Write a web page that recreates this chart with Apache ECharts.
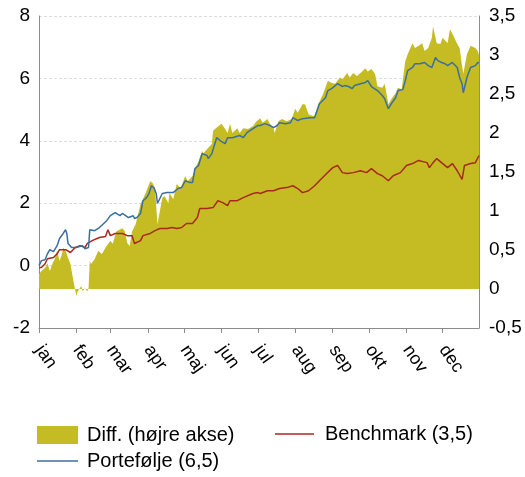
<!DOCTYPE html>
<html>
<head>
<meta charset="utf-8">
<script src="https://cdn.jsdelivr.net/npm/echarts@6/dist/echarts.min.js"></script>
<style>
html,body{margin:0;padding:0;background:#fff;}
#chart{width:525px;height:477px;}
</style>
</head>
<body>
<div id="chart"></div>
<script>
// Danish month tick labels
const monthLabels = ['jan','feb','mar','apr','maj','jun','jul','aug','sep','okt','nov','dec'];

// Series names
const nameDiff = 'Diff. (højre akse)';
const nameBench = 'Benchmark (3,5)';
const namePort = 'Portefølje (6,5)';

// Data: [day of year (0 = 1 Jan), value]
const portfolio = [[0,0],[2,0.16],[5,0.19],[7,0.38],[9,0.51],[12,0.45],[15,0.64],[17,0.87],[20,1.03],[22,1.15],[23,1.03],[24,0.71],[27,0.58],[31,0.58],[36,0.64],[38,0.54],[41,0.58],[42,1.15],[46,1.12],[50,1.22],[56,1.44],[59,1.6],[63,1.7],[67,1.6],[69,1.67],[74,1.54],[78,1.6],[79,1.51],[81,1.54],[84,1.67],[86,2.08],[89,2.18],[91,2.31],[93,2.56],[95,2.5],[97,2.31],[98,1.99],[102,2.31],[106,2.34],[111,2.34],[115,2.47],[118,2.5],[121,2.72],[125,2.66],[127,2.66],[129,3.11],[132,3.21],[135,3.59],[139,3.53],[140,3.43],[143,3.59],[144,3.59],[147,4.1],[150,4.0],[154,3.91],[156,4.1],[160,4.1],[166,4.17],[169,4.1],[172,4.26],[177,4.39],[181,4.49],[183,4.49],[187,4.55],[191,4.49],[194,4.42],[197,4.49],[199,4.58],[204,4.55],[208,4.58],[210,4.74],[214,4.65],[218,4.71],[224,4.74],[228,4.74],[232,5.19],[237,5.38],[239,5.61],[242,5.67],[245,5.77],[247,5.83],[251,5.74],[253,5.77],[256,5.74],[259,5.67],[261,5.77],[266,5.83],[270,5.87],[272,5.93],[275,5.74],[280,5.61],[284,5.45],[286,5.35],[289,5.03],[292,5.22],[295,5.38],[297,5.61],[301,5.64],[303,5.93],[305,6.25],[309,6.35],[311,6.47],[315,6.47],[319,6.51],[322,6.41],[325,6.35],[328,6.67],[330,6.57],[333,6.51],[336,6.47],[338,6.41],[342,6.51],[343,6.47],[346,6.35],[348,6.03],[350,5.83],[351,5.54],[354,6.03],[357,6.35],[361,6.41],[363,6.51],[364,6.5]];

const benchmark = [[0,-0.06],[2,-0.06],[5,0.06],[7,0.22],[12,0.26],[15,0.38],[17,0.51],[22,0.51],[26,0.42],[30,0.58],[34,0.64],[38,0.58],[40,0.71],[44,0.8],[50,0.9],[55,0.93],[57,1.15],[59,0.96],[63,1.03],[69,1.03],[73,0.96],[77,0.96],[79,0.71],[84,0.8],[86,0.96],[92,1.03],[96,1.12],[100,1.19],[106,1.19],[110,1.22],[114,1.19],[118,1.22],[122,1.35],[127,1.35],[131,1.54],[133,1.83],[139,1.83],[144,1.86],[148,2.08],[152,2.02],[156,1.92],[158,2.08],[164,2.08],[169,2.18],[177,2.31],[181,2.34],[183,2.31],[189,2.4],[194,2.4],[199,2.47],[205,2.5],[210,2.56],[214,2.47],[218,2.34],[223,2.4],[228,2.56],[232,2.72],[238,2.95],[243,3.14],[247,3.21],[251,2.98],[255,2.95],[260,2.98],[266,3.04],[271,2.98],[275,3.11],[280,2.95],[284,2.88],[289,2.72],[293,2.88],[299,2.98],[304,3.21],[309,3.27],[314,3.37],[321,3.3],[323,3.14],[326,3.3],[329,3.43],[333,3.3],[338,3.14],[342,3.27],[346,3.04],[350,2.76],[352,3.21],[357,3.27],[361,3.3],[364,3.53]];

const diff = [[0,0.19],[2,0.23],[5,0.27],[7,0.33],[9,0.23],[11,0.32],[13,0.38],[15,0.49],[17,0.36],[19,0.45],[20,0.53],[22,0.49],[24,0.4],[26,0.32],[27,0.23],[29,0.06],[31,-0.09],[32,-0.03],[35,0.04],[36,-0.03],[38,0.01],[40,-0.03],[41,0.01],[42,0.36],[43,0.32],[46,0.38],[49,0.49],[52,0.45],[55,0.53],[59,0.62],[61,0.58],[64,0.74],[65,0.72],[69,0.78],[71,0.74],[73,0.59],[75,0.55],[77,0.74],[80,0.83],[84,1.09],[88,1.22],[92,1.38],[94,1.36],[96,1.29],[98,0.83],[102,1.17],[104,1.19],[107,1.1],[108,1.23],[111,1.15],[114,1.35],[117,1.29],[121,1.45],[123,1.38],[127,1.45],[129,1.54],[132,1.64],[135,1.77],[136,1.74],[140,1.81],[143,1.86],[144,2.03],[147,2.07],[151,2.12],[154,2.05],[156,2.0],[158,2.12],[160,2.0],[164,2.06],[166,2.0],[169,2.06],[173,2.05],[177,2.09],[180,2.15],[183,2.19],[185,2.13],[189,2.18],[191,2.12],[194,2.06],[195,2.0],[198,2.15],[201,2.18],[205,2.15],[209,2.18],[212,2.31],[214,2.26],[218,2.37],[220,2.37],[223,2.24],[226,2.22],[228,2.22],[231,2.37],[235,2.5],[239,2.67],[242,2.64],[245,2.63],[249,2.71],[251,2.69],[255,2.77],[257,2.71],[260,2.77],[263,2.73],[266,2.77],[270,2.83],[272,2.79],[275,2.82],[278,2.76],[280,2.6],[284,2.58],[286,2.63],[289,2.37],[292,2.45],[295,2.51],[297,2.58],[300,2.56],[303,2.92],[305,3.01],[309,3.15],[311,3.09],[314,3.12],[317,3.15],[319,3.05],[322,3.09],[325,3.22],[326,3.37],[329,3.15],[332,3.14],[334,3.22],[338,3.15],[340,3.33],[343,3.24],[346,3.14],[348,3.09],[350,2.86],[351,2.76],[354,3.01],[357,3.12],[361,3.09],[363,3.05],[364,3.0]];

// Category axis: every day of the year
const days = [];
for (let i = 0; i < 365; i++) {
  days.push(new Date(Date.UTC(2023, 0, 1 + i)).toISOString().slice(0, 10));
}
const isMonthStart = (idx, val) => days[idx].endsWith('-01');

const FONT = '"Liberation Sans", Arial, sans-serif';
const axisGray = '#8c8c8c';
const comma = v => String(v).replace('.', ',');
const COL_DIFF = '#c4bc22', COL_BENCH = '#a8291c', COL_PORT = '#3b6fa0';

const legendText = pad => ({fontFamily: FONT, fontSize: 20, color: '#000', padding: [0, 0, 0, pad]});

const chart = echarts.init(document.getElementById('chart'), null, {renderer: 'canvas'});
chart.setOption({
  animation: false,
  textStyle: {fontFamily: FONT, color: '#000'},
  grid: {left: 39, right: 46, top: 16, bottom: 149, containLabel: false},
  legend: [
    {
      left: 37, top: 425, padding: 0, itemWidth: 41, itemHeight: 18,
      textStyle: legendText(4),
      data: [{name: nameDiff, icon: 'rect'}]
    },
    {
      left: 275, top: 424, padding: 0, itemWidth: 39, itemHeight: 1.5,
      textStyle: legendText(6),
      data: [{name: nameBench, icon: 'rect'}]
    },
    {
      left: 37, top: 451, padding: 0, itemWidth: 41, itemHeight: 1.5,
      textStyle: legendText(4),
      data: [{name: namePort, icon: 'rect'}]
    }
  ],
  xAxis: {
    type: 'category',
    data: days,
    boundaryGap: false,
    axisLine: {onZero: false, lineStyle: {color: axisGray, width: 1}},
    axisTick: {show: true, interval: isMonthStart, length: 5, lineStyle: {color: axisGray}},
    axisLabel: {
      interval: isMonthStart,
      rotate: -55,
      margin: 19,
      fontSize: 18,
      fontFamily: FONT,
      color: '#000',
      formatter: v => monthLabels[parseInt(v.slice(5, 7), 10) - 1]
    },
    splitLine: {show: false}
  },
  yAxis: [
    {
      type: 'value', min: -2, max: 8, interval: 2,
      axisLine: {show: true, lineStyle: {color: axisGray}},
      axisTick: {show: false},
      axisLabel: {fontSize: 19, fontFamily: FONT, color: '#000', margin: 9, formatter: comma},
      splitLine: {show: true, lineStyle: {color: '#dcdcdc', type: [3, 2], width: 1}}
    },
    {
      type: 'value', min: -0.5, max: 3.5, interval: 0.5,
      axisLine: {show: true, lineStyle: {color: axisGray}},
      axisTick: {show: false},
      axisLabel: {fontSize: 19, fontFamily: FONT, color: '#000', margin: 10, formatter: comma},
      splitLine: {show: false}
    }
  ],
  series: [
    {
      name: nameDiff, type: 'line', yAxisIndex: 1, data: diff,
      symbol: 'none', color: COL_DIFF,
      lineStyle: {width: 0, color: COL_DIFF},
      areaStyle: {color: COL_DIFF, opacity: 1}
    },
    {
      name: nameBench, type: 'line', yAxisIndex: 0, data: benchmark,
      symbol: 'none', color: COL_BENCH,
      lineStyle: {width: 1.5, color: COL_BENCH}
    },
    {
      name: namePort, type: 'line', yAxisIndex: 0, data: portfolio,
      symbol: 'none', color: COL_PORT,
      lineStyle: {width: 1.5, color: COL_PORT}
    }
  ]
});
</script>
</body>
</html>
